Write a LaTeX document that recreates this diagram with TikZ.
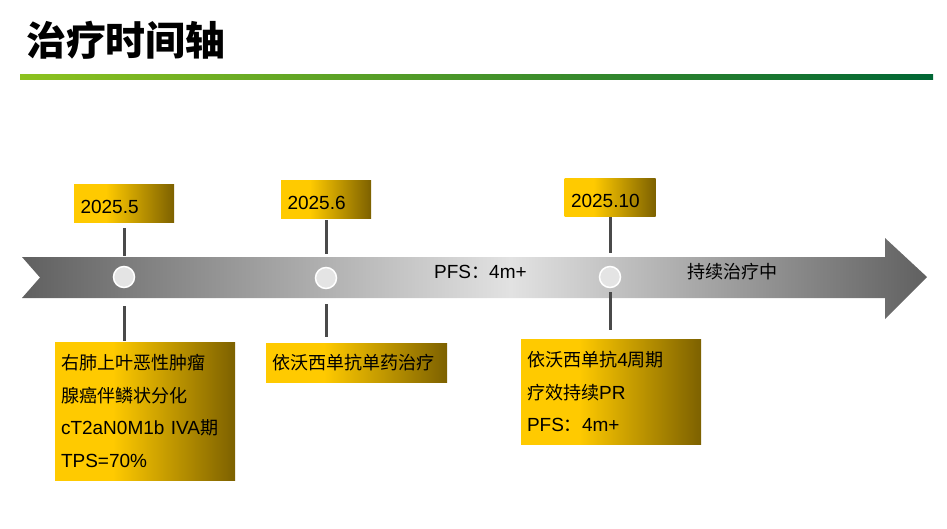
\documentclass[tikz,border=0pt]{standalone}
\usepackage{fontspec}
\setmainfont{Liberation Sans}
\newfontfamily\cjk[Scale=0.95]{Noto Sans CJK SC}
\usetikzlibrary{positioning}
\definecolor{gold}{HTML}{FFCA00}
\definecolor{golddark}{HTML}{7D6100}
\definecolor{leafgreen}{HTML}{8DC21F}
\definecolor{midgreen}{HTML}{1E9230}
\definecolor{darkgreen}{HTML}{006634}
\definecolor{axisdark}{HTML}{606060}
\definecolor{axislight}{HTML}{E2E2E2}
\definecolor{stemgray}{HTML}{4A4A4A}
\definecolor{dotfill}{HTML}{E4E4E4}
\pgfdeclarehorizontalshading{goldfade}{100bp}{color(0bp)=(gold); color(41bp)=(gold); color(75bp)=(golddark); color(100bp)=(golddark)}
\pgfdeclarehorizontalshading{axisfade}{100bp}{color(0bp)=(axisdark); color(25bp)=(axisdark); color(52bp)=(axislight); color(75bp)=(axisdark); color(100bp)=(axisdark)}
\begin{document}
\begin{tikzpicture}[x=1pt,y=-1pt,
	datebox/.style={shading=goldfade, inner xsep=6.5pt, inner ysep=0pt, align=left, minimum height=38pt, text height=19pt, text depth=0pt, font=\fontsize{19}{23}\selectfont},
	infobox/.style={shading=goldfade, inner xsep=6pt, inner ysep=0pt, align=left, font=\fontsize{19}{32.6}\selectfont},
	dot/.style={circle, minimum size=21pt, inner sep=0pt, outer sep=0pt, fill=dotfill, draw=white, line width=1.5pt},
	stem/.style={draw=stemgray, line width=3pt},
	axislabel/.style={anchor=west, inner sep=0pt, font=\fontsize{19}{23}\selectfont}]
			\useasboundingbox (0,0) rectangle (947,528);
			\node[anchor=west, inner sep=0pt, font=\fontsize{42}{46}\selectfont] (title) at (26,40) {\cjk\bfseries 治疗时间轴};
			\shade[left color=leafgreen, middle color=midgreen, right color=darkgreen] (20,74.5) rectangle (933,79.5);
			\shade[shading=axisfade] (22,257) -- (885,257) -- (885,238) -- (927,277) -- (885,319) -- (885,298) -- (22,298) -- (40,277.5) -- cycle;
			\node[axislabel] (pfs) at (434,272) {PFS{\cjk ：}4m+};
			\node[axislabel] (ongoing) at (687,272) {\cjk 持续治疗中};
			\node[dot] (dot1) at (124,277) {};
			\node[dot] (dot2) at (326,278) {};
			\node[dot] (dot3) at (610,277) {};
			\node[datebox, text width=87pt, above=43.5pt of dot1] (date1) {2025.5};
			\node[datebox, text width=77pt, above=48.5pt of dot2] (date2) {2025.6};
			\node[datebox, text width=78pt, above=49.5pt of dot3] (date3) {2025.10};
			\node[infobox, text width=168pt, minimum height=138pt] (diag) at (145,411) {{\cjk 右肺上叶恶性肿瘤}\\{\cjk 腺癌伴鳞状分化}\\cT2aN0M1b IVA{\cjk 期}\\TPS=70\%};
			\node[infobox, text width=169pt, minimum height=39pt] (mono) at (356.5,362.5) {\cjk 依沃西单抗单药治疗};
			\node[infobox, text width=168pt, minimum height=105pt] (resp) at (611,391.5) {{\cjk 依沃西单抗}4{\cjk 周期}\\{\cjk 疗效持续}PR\\PFS{\cjk ：}4m+};
			\draw[stem, shorten <=5pt, shorten >=10.5pt] (date1) -- (dot1);
			\draw[stem, shorten <=1pt, shorten >=13.5pt] (date2) -- (dot2);
			\draw[stem, shorten <=0pt, shorten >=13.5pt] (date3) -- (dot3);
			\draw[stem, shorten <=18.5pt, shorten >=1pt] (dot1) -- (dot1 |- diag.north);
			\draw[stem, shorten <=15.5pt, shorten >=6pt] (dot2) -- (dot2 |- mono.north);
			\draw[stem, shorten <=4.5pt, shorten >=9pt] (dot3) -- (dot3 |- resp.north);
\end{tikzpicture}
\end{document}
